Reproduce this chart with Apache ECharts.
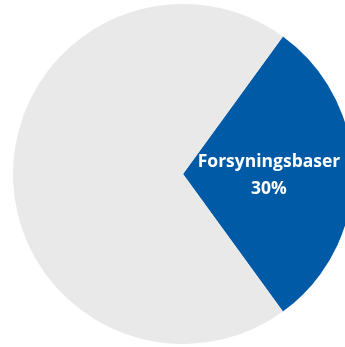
<!DOCTYPE html>
<html>
<head>
<meta charset="utf-8">
<script src="https://cdn.jsdelivr.net/npm/echarts@6/dist/echarts.min.js"></script>
<style>
  html, body { margin: 0; padding: 0; background: #ffffff; }
  #chart { width: 345px; height: 347px; }
</style>
</head>
<body>
<div id="chart"></div>
<script>
// Share of total, in percent
const categories = ['Forsyningsbaser', 'Øvrige'];
const shares = [30, 70];
const colors = ['#005AA5', '#E9E9E9'];
const showLabel = [true, false];

const chart = echarts.init(document.getElementById('chart'), null, { renderer: 'canvas' });

const data = categories.map((name, i) => ({
  name: name,
  value: shares[i],
  itemStyle: { color: colors[i] },
  label: { show: showLabel[i] }
}));

chart.setOption({
  animation: false,
  series: [{
    type: 'pie',
    center: [183, 174],
    radius: [0, 170],
    startAngle: 54,
    clockwise: true,
    silent: true,
    itemStyle: { borderWidth: 0 },
    label: {
      position: 'inside',
      formatter: (p) => p.name + '\n' + p.value + '%',
      color: '#ffffff',
      fontFamily: 'Open Sans',
      fontWeight: 'bold',
      fontSize: 17.5,
      lineHeight: 27,
      align: 'center',
      offset: [-2, 2]
    },
    labelLine: { show: false },
    data: data
  }]
});
</script>
</body>
</html>
